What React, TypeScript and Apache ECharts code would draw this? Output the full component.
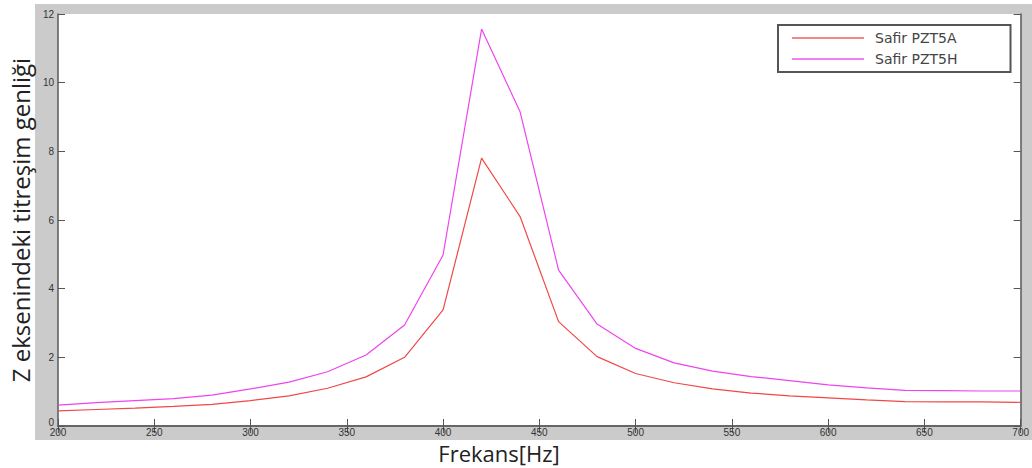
import React, { useEffect, useRef } from "react";
import * as echarts from "echarts";

const frequencies = [200, 220, 240, 260, 280, 300, 320, 340, 360, 380, 400, 420, 440, 460, 480, 500, 520, 540, 560, 580, 600, 620, 640, 660, 680, 700];
const pzt5a = [0.44, 0.48, 0.52, 0.57, 0.63, 0.74, 0.88, 1.1, 1.43, 2.0, 3.38, 7.8, 6.1, 3.04, 2.02, 1.53, 1.26, 1.08, 0.96, 0.88, 0.82, 0.76, 0.71, 0.7, 0.7, 0.69];
const pzt5h = [0.61, 0.68, 0.74, 0.8, 0.9, 1.08, 1.28, 1.58, 2.07, 2.94, 4.98, 11.56, 9.15, 4.54, 2.97, 2.26, 1.84, 1.6, 1.44, 1.32, 1.2, 1.11, 1.04, 1.03, 1.02, 1.02];
const seriesNames = ["Safir PZT5A", "Safir PZT5H"];
const xTitle = "Frekans[Hz]";
const yTitle = "Z eksenindeki titreşim genliği";

export default function App() {
  const ref = useRef<HTMLDivElement>(null);
  useEffect(() => {
    if (!ref.current) return;
    const chart = echarts.init(ref.current, undefined, { renderer: "svg" });
    const axisLine = { show: true, lineStyle: { color: "#5a5a5a", width: 1.5 } };
    const tick = { show: true, inside: true, length: 7, lineStyle: { color: "#555", width: 1 } };
    const label = { color: "#333", fontSize: 10, fontFamily: "Liberation Sans, Arial, sans-serif" };
    chart.setOption({
      animation: false,
      backgroundColor: "#ffffff",
      graphic: [
        {
          type: "rect",
          z: -10,
          shape: { x: 35, y: 4, width: 997, height: 436 },
          style: { fill: "#cbcbcb" },
          silent: true,
        },
        {
          type: "text",
          x: 499,
          y: 452.5,
          style: {
            text: xTitle,
            fontSize: 22,
            lineHeight: 22,
            fill: "#222",
            fontFamily: "Open Sans, sans-serif",
            align: "center",
            verticalAlign: "middle",
          },
        },
      ],
      grid: {
        left: 52,
        right: 8,
        top: 14,
        bottom: 42,
        show: true,
        backgroundColor: "#ffffff",
        borderWidth: 0,
      },
      legend: {
        orient: "vertical",
        left: 778,
        top: 25,
        padding: [5, 53, 5, 14],
        itemGap: 5,
        itemWidth: 72,
        itemHeight: 2,
        icon: "rect",
        backgroundColor: "#ffffff",
        borderColor: "#555",
        borderWidth: 2,
        textStyle: { color: "#444", fontSize: 14, fontFamily: "DejaVu Sans, sans-serif", padding: [0, 0, 0, 6], lineHeight: 16 },
        data: seriesNames,
      },
      xAxis: [
        {
          type: "value",
          min: 200,
          max: 700,
          interval: 50,
          position: "bottom",
          axisLine,
          axisTick: tick,
          axisLabel: { ...label, margin: 1, lineHeight: 10 },
          splitLine: { show: false },
        },
        {
          type: "value",
          min: 200,
          max: 700,
          interval: 50,
          position: "top",
          axisLine: { show: true, lineStyle: { color: "#666", width: 2 } },
          axisTick: tick,
          axisLabel: { show: false },
          splitLine: { show: false },
        },
      ],
      yAxis: [
        {
          type: "value",
          min: 0,
          max: 12,
          interval: 2,
          position: "left",
          axisLine,
          axisTick: tick,
          axisLabel: {
            ...label,
            margin: 4,
            lineHeight: 10,
            formatter: (v: number) => (v === 0 ? "{z|0}" : String(v)),
            rich: { z: { ...label, lineHeight: 10, padding: [0, 0, 8, 0] } },
          },
          splitLine: { show: false },
          name: yTitle,
          nameLocation: "middle",
          nameGap: 23,
          nameTextStyle: { fontSize: 24, color: "#222", fontFamily: "Open Sans, sans-serif" },
        },
        {
          type: "value",
          min: 0,
          max: 12,
          interval: 2,
          position: "right",
          axisLine,
          axisTick: tick,
          axisLabel: { show: false },
          splitLine: { show: false },
        },
      ],
      series: [
        {
          name: seriesNames[0],
          type: "line",
          data: frequencies.map((f, i) => [f, pzt5a[i]]),
          symbol: "none",
          lineStyle: { color: "#f04848", width: 1.2 },
          itemStyle: { color: "#f48888" },
        },
        {
          name: seriesNames[1],
          type: "line",
          data: frequencies.map((f, i) => [f, pzt5h[i]]),
          symbol: "none",
          lineStyle: { color: "#ee44ee", width: 1.2 },
          itemStyle: { color: "#f080f0" },
        },
      ],
    });
    return () => chart.dispose();
  }, []);
  return <div ref={ref} style={{ width: 1032, height: 468, position: "absolute", left: 0, top: 0 }} />;
}
